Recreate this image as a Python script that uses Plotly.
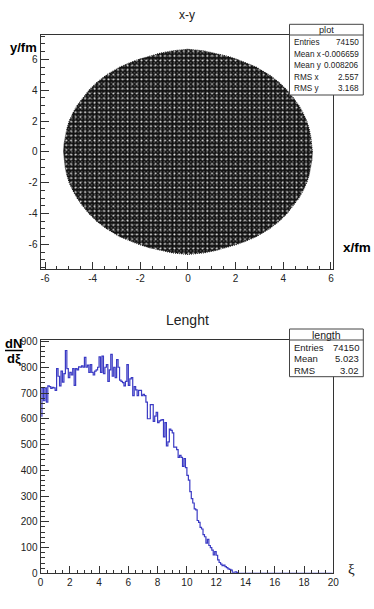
import plotly.graph_objects as go

W, H = 374, 609

# x-y cloud: half width of the filled region at each height
edge_y = [0, 0.5, 1, 1.5, 2, 2.5, 3, 3.5, 4, 4.5, 5, 5.5, 5.8, 6, 6.2, 6.4, 6.55, 6.65]
edge_x = [5.22, 5.2, 5.15, 5.08, 4.98, 4.83, 4.65, 4.42, 4.15, 3.82, 3.4, 2.85, 2.4, 2.05, 1.65, 1.15, 0.65, 0.0]

outline_x = edge_x + [-v for v in edge_x[::-1]] + [-v for v in edge_x] + edge_x[::-1]
outline_y = edge_y + edge_y[::-1] + [-v for v in edge_y] + [-v for v in edge_y[::-1]]

# length histogram, bins of 0.1 from 0 to 13.5 (empty up to 20)
xi_bins = [round(i * 0.1 + 0.05, 2) for i in range(200)]
xi_counts = [610, 720, 670, 720, 665, 728, 725, 718, 722, 720,
             710, 795, 765, 728, 785, 742, 775, 865, 795, 760,
             780, 770, 795, 730, 795, 790, 802, 800, 805, 800,
             838, 800, 808, 780, 810, 780, 770, 785, 790, 800,
             840, 780, 843, 775, 800, 810, 745, 790, 850, 765,
             800, 760, 830, 800, 750, 745, 740, 728, 745, 810,
             730, 755, 760, 690, 725, 712, 690, 710, 710, 690,
             695, 690, 665, 600, 600, 655, 655, 590, 610, 625,
             585, 592, 595, 597, 530, 585, 495, 510, 560, 555,
             545, 490, 490, 480, 450, 458, 450, 415, 445, 410,
             380, 362, 317, 290, 273, 250, 246, 205, 198, 178,
             172, 150, 142, 117, 132, 108, 100, 90, 71, 84,
             70, 52, 42, 36, 30, 32, 26, 22, 17, 15,
             12, 4, 4, 6, 3] + [0] * 65

x_ticks = [-6, -4, -2, 0, 2, 4, 6]
x_tick_labels = ["-6", "-4", "-2", "0", "2", "4", "6"]

plot_stats = [("Entries", "74150"), ("Mean x", "-0.006659"), ("Mean y", "0.008206"),
              ("RMS x", "2.557"), ("RMS y", "3.168")]
length_stats = [("Entries", "74150"), ("Mean", "5.023"), ("RMS", "3.02")]


def px_x(x):
    return x / W


def px_y(y):
    return 1 - y / H


def label(x, y, text, size=10, anchor="center", family="Liberation Sans", color="#222222"):
    fig.add_annotation(x=px_x(x), y=px_y(y), xref="paper", yref="paper", text=text, showarrow=False,
                       xanchor=anchor, yanchor="middle", borderpad=0, font=dict(size=size, family=family, color=color))


def stats_box(top, sep, bottom, name, rows, row_ys, size):
    fig.add_shape(type="rect", xref="paper", yref="paper", layer="above",
                  x0=px_x(289.5), x1=px_x(363.3), y0=px_y(bottom), y1=px_y(top),
                  fillcolor="white", line=dict(color="#444444", width=1))
    fig.add_shape(type="line", xref="paper", yref="paper", layer="above",
                  x0=px_x(289.5), x1=px_x(363.3), y0=px_y(sep), y1=px_y(sep),
                  line=dict(color="#444444", width=1))
    label(326.4, (top + sep) / 2, name, size=size + 1)
    for (left, right), y in zip(rows, row_ys):
        label(292.5, y, left, size=size, anchor="left")
        label(359.5, y, right, size=size, anchor="right")


fig = go.Figure()

# dense cloud: dark fill with two dot patterns of unequal pitch for the speckle
fig.add_trace(go.Scatter(x=outline_x, y=outline_y, mode="lines", fill="toself",
                         line=dict(color="#111111", width=1.2, dash="1px,1px"), fillcolor="#111111",
                         fillpattern=dict(shape=".", size=3.3, solidity=0.16, fgcolor="#b0b0b0", bgcolor="#111111"),
                         xaxis="x", yaxis="y", showlegend=False))
fig.add_trace(go.Scatter(x=outline_x, y=outline_y, mode="none", fill="toself",
                         fillpattern=dict(shape=".", size=4.7, solidity=0.14, fgcolor="#ffffff",
                                          bgcolor="rgba(0,0,0,0)", fgopacity=0.9),
                         xaxis="x", yaxis="y", showlegend=False))
fig.add_trace(go.Scatter(x=xi_bins, y=xi_counts, mode="lines",
                         line=dict(color="#3a3ac4", width=1.2, shape="hvh"),
                         xaxis="x2", yaxis="y2", showlegend=False))

axis_style = dict(showgrid=False, zeroline=False, showline=True, mirror=True, linecolor="#333333", linewidth=1,
                  ticks="inside", tickcolor="#333333", tickwidth=1,
                  tickfont=dict(size=10, family="Liberation Sans", color="#222222"))

fig.update_layout(
    width=W, height=H, margin=dict(l=0, r=0, t=0, b=0, autoexpand=False), autosize=False,
    paper_bgcolor="white", plot_bgcolor="white", showlegend=False,
    xaxis=dict(domain=[px_x(40.5), px_x(333.3)], range=[-6.19, 6.1], tickvals=x_ticks, ticktext=x_tick_labels, ticklen=7,
               minor=dict(dtick=0.5, ticks="inside", ticklen=3.5, tickcolor="#333333"),
               anchor="y", **axis_style),
    yaxis=dict(domain=[px_y(269), px_y(34.7)], range=[-7.6, 7.6], tickvals=x_ticks, ticktext=x_tick_labels, ticklen=8.5,
               minor=dict(dtick=0.5, ticks="inside", ticklen=4.5, tickcolor="#333333"),
               anchor="x", **axis_style),
    xaxis2=dict(domain=[px_x(40.5), px_x(333.3)], range=[0, 20], dtick=2, tick0=0, ticklen=7,
                minor=dict(dtick=0.5, ticks="inside", ticklen=3.5, tickcolor="#333333"),
                anchor="y2", **axis_style),
    yaxis2=dict(domain=[px_y(573.3), px_y(339.7)], range=[0, 907], dtick=100, tick0=0, ticklen=8.5,
                minor=dict(dtick=20, ticks="inside", ticklen=4.5, tickcolor="#333333"),
                anchor="x2", **axis_style),
)

label(187, 15, "x-y", size=12)
label(187, 320, "Lenght", size=14)
label(23, 47, "<b>y/fm</b>", size=13, color="black")
label(357, 248, "<b>x/fm</b>", size=13.5, color="black")
label(14, 343, "<b>dN</b>", size=13, color="black")
label(14, 359, "<b>dξ</b>", size=13, color="black")
fig.add_shape(type="line", xref="paper", yref="paper", x0=px_x(5), x1=px_x(23), y0=px_y(350.5), y1=px_y(350.5),
              line=dict(color="black", width=1.5))
label(351, 569, "ξ", size=15, family="Liberation Serif")

stats_box(24.3, 35, 95, "plot", plot_stats, [42.7, 54, 65.7, 77.3, 89], 8.2)
stats_box(329, 340, 376.7, "length", length_stats, [347.7, 359, 370], 9.5)

fig.write_html("out.html", config=dict(displayModeBar=False), post_script="document.body.style.margin='0';")
